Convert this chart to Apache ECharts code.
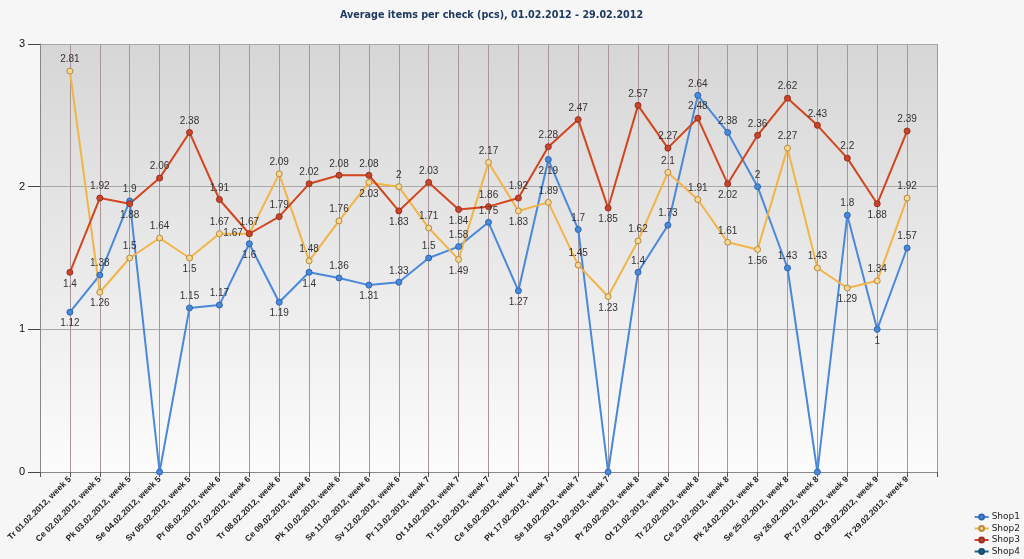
<!DOCTYPE html>
<html><head><meta charset="utf-8">
<script src="https://cdn.jsdelivr.net/npm/echarts@6/dist/echarts.min.js"></script>
<style>html,body{margin:0;padding:0;background:#f6f6f6}#c{width:1024px;height:559px}</style>
</head><body><div id="c"></div>
<script>
var categories = ['Tr 01.02.2012, week 5','Ce 02.02.2012, week 5','Pk 03.02.2012, week 5','Se 04.02.2012, week 5','Sv 05.02.2012, week 5','Pr 06.02.2012, week 6','Ot 07.02.2012, week 6','Tr 08.02.2012, week 6','Ce 09.02.2012, week 6','Pk 10.02.2012, week 6','Se 11.02.2012, week 6','Sv 12.02.2012, week 6','Pr 13.02.2012, week 7','Ot 14.02.2012, week 7','Tr 15.02.2012, week 7','Ce 16.02.2012, week 7','Pk 17.02.2012, week 7','Se 18.02.2012, week 7','Sv 19.02.2012, week 7','Pr 20.02.2012, week 8','Ot 21.02.2012, week 8','Tr 22.02.2012, week 8','Ce 23.02.2012, week 8','Pk 24.02.2012, week 8','Se 25.02.2012, week 8','Sv 26.02.2012, week 8','Pr 27.02.2012, week 9','Ot 28.02.2012, week 9','Tr 29.02.2012, week 9'];
var shop1 = [1.12,1.38,1.9,0,1.15,1.17,1.6,1.19,1.4,1.36,1.31,1.33,1.5,1.58,1.75,1.27,2.19,1.7,0,1.4,1.73,2.64,2.38,2,1.43,0,1.8,1,1.57];
var shop2 = [2.81,1.26,1.5,1.64,1.5,1.67,1.67,2.09,1.48,1.76,2.03,2,1.71,1.49,2.17,1.83,1.89,1.45,1.23,1.62,2.1,1.91,1.61,1.56,2.27,1.43,1.29,1.34,1.92];
var shop3 = [1.4,1.92,1.88,2.06,2.38,1.91,1.67,1.79,2.02,2.08,2.08,1.83,2.03,1.84,1.86,1.92,2.28,2.47,1.85,2.57,2.27,2.48,2.02,2.36,2.62,2.43,2.2,1.88,2.39];
var shop4 = [];
var yTicks = [0,1,2,3];

// label placement (style only)
var pos1 = ['b','t','t','t','t','t','b','b','b','t','b','t','t','t','t','b','b','t','t','t','t','t','t','t','t','t','t','b','t'];
var pos2 = ['t','b','t','t','b','t','l','t','t','t','b','t','t','b','t','b','t','t','b','t','t','t','t','b','t','t','b','t','t'];
var pos3 = ['b','t','b','t','t','t','t','t','t','t','t','b','t','b','t','t','t','t','b','t','t','t','b','t','t','t','t','b','t'];
var posMap = {t:'top', b:'bottom', l:'left'};

var xCats = [''].concat(categories).concat(['']);
function build(vals, pos) {
  var d = [null];
  vals.forEach(function (v, i) { d.push({value: v, label: {position: posMap[pos ? pos[i] : 't']}}); });
  d.push(null);
  return d;
}
var lblFont = {fontSize: 10, color: '#333', fontFamily: '"Liberation Sans Narrow","Liberation Sans",Arial,sans-serif', distance: 3,
  formatter: function (p) { return p.value === 0 ? '' : String(p.value); }};

function series(name, vals, pos, line, fill, border) {
  return {
    name: name, type: 'line', data: build(vals, pos), symbol: 'circle', symbolSize: 6,
    connectNulls: false,
    lineStyle: {color: line, width: 2},
    itemStyle: {color: fill, borderColor: border, borderWidth: 1},
    label: Object.assign({show: true}, lblFont),
    z: 3
  };
}

var chart = echarts.init(document.getElementById('c'));
chart.setOption({
  animation: false,
  backgroundColor: '#f6f6f6',
  title: {
    text: 'Average items per check (pcs), 01.02.2012 - 29.02.2012',
    left: 335, top: 5,
    textStyle: {fontSize: 9.6, fontWeight: 'bold', color: '#1f3a60', fontFamily: '"DejaVu Sans",sans-serif'}
  },
  legend: {
    orient: 'vertical', right: 4, bottom: 3, padding: 0, itemGap: 2.5, itemWidth: 14, itemHeight: 6,
    textStyle: {fontSize: 9, color: '#222', fontFamily: '"DejaVu Sans",sans-serif', padding: [0,0,0,-2]},
    data: ['Shop1','Shop2','Shop3','Shop4']
  },
  grid: {
    left: 40, right: 87, top: 44, bottom: 87, show: true, borderWidth: 0,
    backgroundColor: {type: 'linear', x: 0, y: 0, x2: 0, y2: 1,
      colorStops: [{offset: 0, color: '#d6d6d6'}, {offset: 1, color: '#fcfcfc'}]}
  },
  xAxis: {
    type: 'category', data: xCats, boundaryGap: false,
    axisLine: {show: true, lineStyle: {color: '#888'}},
    axisTick: {show: true, interval: 0, length: 5, lineStyle: {color: '#555'}},
    splitLine: {show: true, interval: 0, lineStyle: {color: '#a8969a', width: 1}},
    axisLabel: {interval: 0, rotate: 45, fontSize: 8.5, fontWeight: 'bold', color: '#222', margin: 6,
      fontFamily: '"Liberation Sans",Arial,sans-serif'}
  },
  yAxis: {
    type: 'value', min: yTicks[0], max: yTicks[yTicks.length - 1], interval: 1,
    axisLine: {show: true, lineStyle: {color: '#888'}},
    axisTick: {show: true, length: 12, lineStyle: {color: '#444'}},
    splitLine: {show: true, lineStyle: {color: '#a8a8a8'}},
    axisLabel: {fontSize: 11, color: '#111', margin: 15, fontFamily: '"Liberation Sans",Arial,sans-serif'}
  },
  series: [
    series('Shop1', shop1, pos1, '#4a88da', '#4a88da', '#2f66b0'),
    series('Shop2', shop2, pos2, '#f2b447', '#f4d794', '#b98a3c'),
    series('Shop3', shop3, pos3, '#d2451e', '#c9452a', '#963020'),
    series('Shop4', shop4, null, '#1d5f8f', '#1d5f8f', '#144a70')
  ]
});
</script></body></html>
